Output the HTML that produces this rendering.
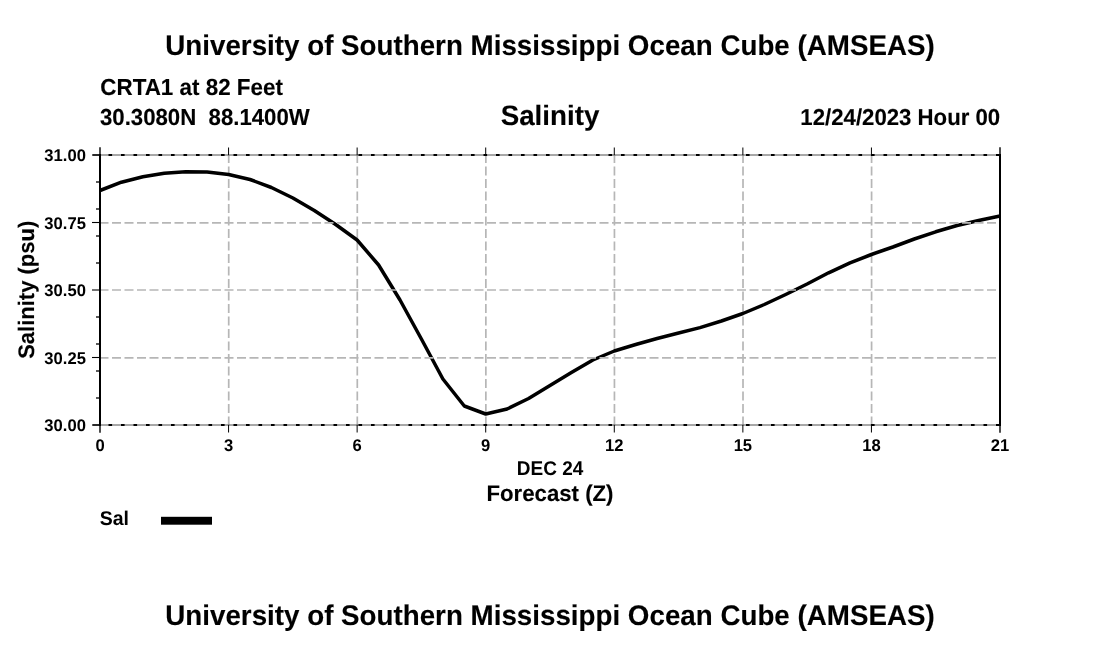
<!DOCTYPE html>
<html lang="en">
<head>
<meta charset="utf-8">
<title>Salinity Forecast</title>
<style>
html,body{margin:0;padding:0;background:#fff;}
body{width:1100px;height:650px;overflow:hidden;}
svg{display:block;}
</style>
</head>
<body>
<svg width="1100" height="650" viewBox="0 0 1100 650">
<rect width="1100" height="650" fill="#fff"/>
<g stroke="#b6b6b6" stroke-width="1.7" stroke-dasharray="9 3.5" fill="none">
<line x1="228.72" y1="425.5" x2="228.72" y2="155"/>
<line x1="357.29" y1="425.5" x2="357.29" y2="155"/>
<line x1="485.86" y1="425.5" x2="485.86" y2="155"/>
<line x1="614.44" y1="425.5" x2="614.44" y2="155"/>
<line x1="743.01" y1="425.5" x2="743.01" y2="155"/>
<line x1="871.58" y1="425.5" x2="871.58" y2="155"/>
</g>
<polyline points="100.0,190.5 121.4,182.2 142.9,176.8 164.3,173.2 185.7,171.8 207.1,172.1 228.6,174.5 250.0,179.5 271.4,187.5 292.9,198.0 314.3,210.5 335.7,224.5 357.1,240.0 378.6,265.0 400.0,300.0 421.4,339.0 442.9,379.0 464.3,406.0 485.7,414.0 507.1,409.0 528.6,398.5 550.0,385.5 571.4,372.5 592.9,360.0 614.3,351.0 635.7,344.5 657.1,338.5 678.6,333.0 700.0,327.6 721.4,321.0 742.9,313.5 764.3,304.5 785.7,294.5 807.1,284.0 828.6,272.8 850.0,262.8 871.4,254.5 892.9,247.0 914.3,239.0 935.7,231.8 957.1,225.5 978.6,220.5 1000.0,216.0" fill="none" stroke="#000" stroke-width="3.5" stroke-linejoin="round"/>
<g stroke="#b6b6b6" stroke-width="1.7" stroke-dasharray="9 3.5" fill="none">
<line x1="99.5" y1="222.8" x2="1000" y2="222.8"/>
<line x1="99.5" y1="290" x2="1000" y2="290"/>
<line x1="99.5" y1="357.8" x2="1000" y2="357.8"/>
</g>
<line x1="92.5" y1="155" x2="1000" y2="155" stroke="#3c3c3c" stroke-width="0.9"/>
<line x1="108.5" y1="155" x2="1000" y2="155" stroke="#000" stroke-width="2" stroke-dasharray="3.6 8.9"/>
<line x1="92.5" y1="425" x2="1000" y2="425" stroke="#3c3c3c" stroke-width="0.9"/>
<line x1="108.5" y1="425" x2="1000" y2="425" stroke="#000" stroke-width="2" stroke-dasharray="3.6 8.9"/>
<g stroke="#000" fill="none">
<line x1="100" y1="154" x2="100" y2="426" stroke-width="2"/>
<line x1="100" y1="147.3" x2="100" y2="155" stroke-width="1.4"/>
<line x1="100" y1="425" x2="100" y2="432.7" stroke-width="1.4"/>
<line x1="92.3" y1="155" x2="100" y2="155" stroke-width="1.5"/>
<line x1="92.3" y1="425" x2="100" y2="425" stroke-width="1.5"/>
<line x1="1000" y1="154" x2="1000" y2="426" stroke-width="2"/>
<line x1="1000" y1="147.3" x2="1000" y2="155" stroke-width="1.4"/>
<line x1="1000" y1="425" x2="1000" y2="432.7" stroke-width="1.4"/>
<line x1="228.57" y1="147.5" x2="228.57" y2="155" stroke-width="1"/>
<line x1="228.57" y1="425" x2="228.57" y2="432.5" stroke-width="1"/>
<line x1="357.14" y1="147.5" x2="357.14" y2="155" stroke-width="1"/>
<line x1="357.14" y1="425" x2="357.14" y2="432.5" stroke-width="1"/>
<line x1="485.71" y1="147.5" x2="485.71" y2="155" stroke-width="1"/>
<line x1="485.71" y1="425" x2="485.71" y2="432.5" stroke-width="1"/>
<line x1="614.29" y1="147.5" x2="614.29" y2="155" stroke-width="1"/>
<line x1="614.29" y1="425" x2="614.29" y2="432.5" stroke-width="1"/>
<line x1="742.86" y1="147.5" x2="742.86" y2="155" stroke-width="1"/>
<line x1="742.86" y1="425" x2="742.86" y2="432.5" stroke-width="1"/>
<line x1="871.43" y1="147.5" x2="871.43" y2="155" stroke-width="1"/>
<line x1="871.43" y1="425" x2="871.43" y2="432.5" stroke-width="1"/>
<line x1="92" y1="222.5" x2="100" y2="222.5" stroke-width="1.1"/>
<line x1="92" y1="290" x2="100" y2="290" stroke-width="1.1"/>
<line x1="92" y1="357.5" x2="100" y2="357.5" stroke-width="1.1"/>
<line x1="96" y1="398" x2="100" y2="398" stroke-width="1.3"/>
<line x1="96" y1="371" x2="100" y2="371" stroke-width="1.3"/>
<line x1="96" y1="344" x2="100" y2="344" stroke-width="1.3"/>
<line x1="96" y1="317" x2="100" y2="317" stroke-width="1.3"/>
<line x1="96" y1="263" x2="100" y2="263" stroke-width="1.3"/>
<line x1="96" y1="236" x2="100" y2="236" stroke-width="1.3"/>
<line x1="96" y1="209" x2="100" y2="209" stroke-width="1.3"/>
<line x1="96" y1="182" x2="100" y2="182" stroke-width="1.3"/>
</g>
<rect x="161" y="516.8" width="51" height="7.9" fill="#000"/>
<g font-family="'Liberation Sans', sans-serif" font-weight="bold" fill="#000" text-rendering="geometricPrecision">
<text transform="translate(550,54.8) scale(1,1.025)" font-size="27.75" text-anchor="middle" stroke="#000" stroke-width="0.12">University of Southern Mississippi Ocean Cube (AMSEAS)</text>
<text transform="translate(550,624.8) scale(1,1.025)" font-size="27.75" text-anchor="middle" stroke="#000" stroke-width="0.12">University of Southern Mississippi Ocean Cube (AMSEAS)</text>
<text transform="translate(100.3,94.8) scale(1,1.035)" font-size="22.41" text-anchor="start" stroke="#000" stroke-width="0.12">CRTA1 at 82 Feet</text>
<text transform="translate(100.0,124.8) scale(1,1.044)" font-size="22.2" text-anchor="start" xml:space="preserve" style="white-space:pre" stroke="#000" stroke-width="0.12">30.3080N  88.1400W</text>
<text transform="translate(550,124.6) scale(1,1.01)" font-size="27.75" text-anchor="middle" stroke="#000" stroke-width="0.12">Salinity</text>
<text transform="translate(1000.2,124.8) scale(1,1.04)" font-size="22.2" text-anchor="end" stroke="#000" stroke-width="0.12">12/24/2023 Hour 00</text>
<text transform="translate(85.9,161.3) scale(1,1.02)" font-size="16.6" text-anchor="end">31.00</text>
<text transform="translate(85.9,228.8) scale(1,1.02)" font-size="16.6" text-anchor="end">30.75</text>
<text transform="translate(85.9,296.3) scale(1,1.02)" font-size="16.6" text-anchor="end">30.50</text>
<text transform="translate(85.9,363.8) scale(1,1.02)" font-size="16.6" text-anchor="end">30.25</text>
<text transform="translate(85.9,431.3) scale(1,1.02)" font-size="16.6" text-anchor="end">30.00</text>
<text transform="translate(100.00,451.0) scale(1,1.02)" font-size="16.6" text-anchor="middle">0</text>
<text transform="translate(228.57,451.0) scale(1,1.02)" font-size="16.6" text-anchor="middle">3</text>
<text transform="translate(357.14,451.0) scale(1,1.02)" font-size="16.6" text-anchor="middle">6</text>
<text transform="translate(485.71,451.0) scale(1,1.02)" font-size="16.6" text-anchor="middle">9</text>
<text transform="translate(614.29,451.0) scale(1,1.02)" font-size="16.6" text-anchor="middle">12</text>
<text transform="translate(742.86,451.0) scale(1,1.02)" font-size="16.6" text-anchor="middle">15</text>
<text transform="translate(871.43,451.0) scale(1,1.02)" font-size="16.6" text-anchor="middle">18</text>
<text transform="translate(1000.00,451.0) scale(1,1.02)" font-size="16.6" text-anchor="middle">21</text>
<text transform="translate(550,474.7) scale(1,1.044)" font-size="19" text-anchor="middle">DEC 24</text>
<text transform="translate(550,500.9) scale(1,1.02)" font-size="22.2" text-anchor="middle" stroke="#000" stroke-width="0.12">Forecast (Z)</text>
<text transform="translate(99.7,524.7) scale(1,1.02)" font-size="19.5" text-anchor="start">Sal</text>
<text transform="translate(33.9,289.8) rotate(-90) scale(1,1.02)" font-size="22" stroke="#000" stroke-width="0.12" text-anchor="middle">Salinity (psu)</text>
</g>
</svg>
</body>
</html>
